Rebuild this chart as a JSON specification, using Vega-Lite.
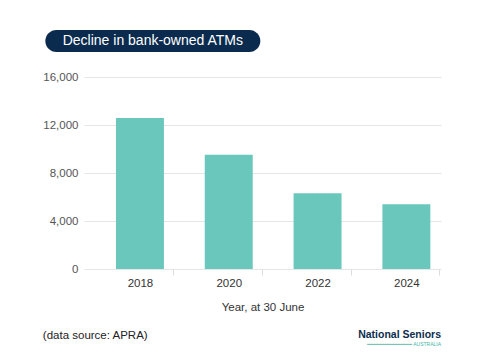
{
  "$schema": "https://vega.github.io/schema/vega-lite/v6.json",
  "background": "white",
  "padding": {"left": 42, "top": 30, "right": 5, "bottom": 5},
  "spacing": 19,
  "center": true,
  "config": {"font": "Liberation Sans", "view": {"stroke": null}},
  "title": {
    "text": "(data source: APRA)",
    "orient": "bottom",
    "anchor": "start",
    "frame": "bounds",
    "offset": -17,
    "fontSize": 11.5,
    "fontWeight": "normal",
    "color": "#222"
  },
  "vconcat": [
    {
      "width": 215,
      "height": 22,
      "title": {"text": "x", "orient": "right", "angle": 0, "color": "#ffffff00", "fontSize": 10, "offset": 211},
      "view": {"fill": "#0b2b4e", "cornerRadius": 11, "stroke": null},
      "data": {"values": [{"t": "Decline in bank-owned ATMs"}]},
      "mark": {"type": "text", "color": "white", "fontSize": 14, "baseline": "middle", "align": "center"},
      "encoding": {"text": {"field": "t"}}
    },
    {
      "width": 357,
      "height": 192,
      "title": {
        "text": "National Seniors",
        "subtitle": "━━━━━━━━━━━━━━━ AUSTRALIA",
        "orient": "bottom",
        "anchor": "end",
        "frame": "bounds",
        "offset": 17,
        "font": "Liberation Sans",
        "fontSize": 10.5,
        "fontWeight": "bold",
        "color": "#0c2d4e",
        "subtitleFont": "Liberation Sans",
        "subtitleFontSize": 5,
        "subtitleColor": "#3fb3a5",
        "subtitlePadding": 1
      },
      "data": {"values": [
        {"year": "2018", "atms": 12580},
        {"year": "2020", "atms": 9530},
        {"year": "2022", "atms": 6310},
        {"year": "2024", "atms": 5390}
      ]},
      "mark": {"type": "bar", "color": "#6ac7bb"},
      "encoding": {
        "x": {
          "field": "year",
          "type": "ordinal",
          "scale": {"paddingInner": 0.46, "paddingOuter": 0.24, "align": 0.75},
          "axis": {
            "labelAngle": 0,
            "title": "Year, at 30 June",
            "domain": false,
            "tickColor": "#dddddd",
            "tickSize": 6,
            "tickOffset": 33,
            "labelOffset": -33,
            "labelPadding": 2,
            "labelFontSize": 11.5,
            "labelColor": "#333",
            "titleFontSize": 11.5,
            "titleFontWeight": "normal",
            "titleColor": "#333",
            "titlePadding": 13
          }
        },
        "y": {
          "field": "atms",
          "type": "quantitative",
          "scale": {"domain": [0, 16000]},
          "axis": {
            "values": [0, 4000, 8000, 12000, 16000],
            "format": ",.0f",
            "title": null,
            "domain": false,
            "ticks": false,
            "gridColor": "#e6e6e6",
            "labelPadding": 6,
            "labelFontSize": 11.5,
            "labelColor": "#555"
          }
        }
      }
    }
  ]
}
